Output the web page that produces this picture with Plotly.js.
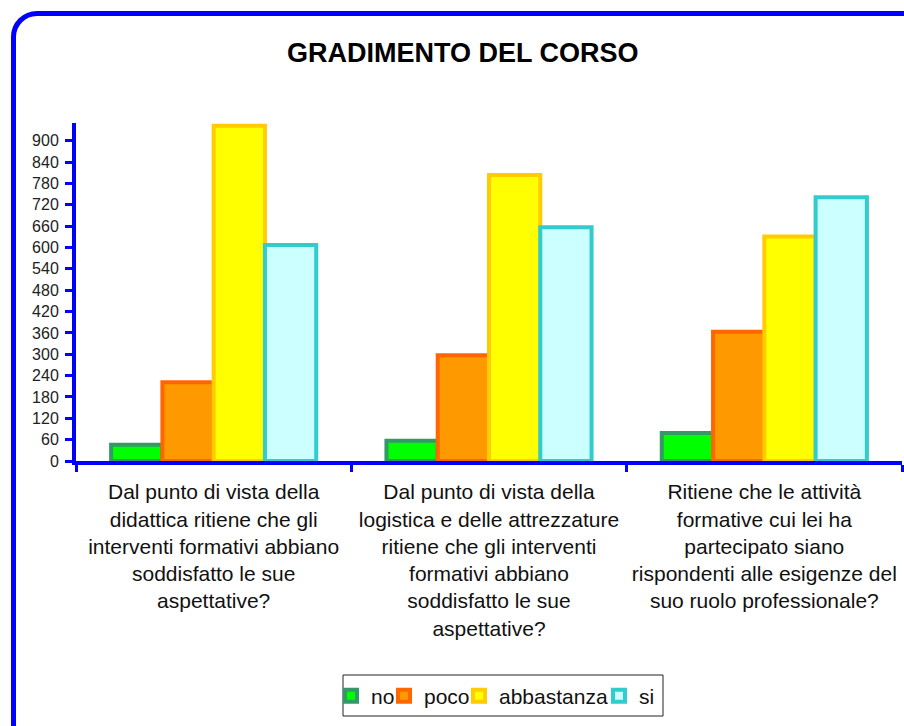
<!DOCTYPE html>
<html>
<head>
<meta charset="utf-8">
<script src="https://cdn.plot.ly/plotly-3.0.1.min.js"></script>
<style>
html, body { margin: 0; padding: 0; background: #fff; overflow: hidden; }
#wrap { position: relative; width: 904px; height: 726px; overflow: hidden; }
#chart { position: absolute; left: 0; top: 0; width: 904px; height: 726px; }
#frame { position: absolute; left: 11px; top: 11px; width: 920px; height: 760px;
  border: 5px solid #0000FF; border-radius: 26px; pointer-events: none; box-sizing: border-box; }
</style>
</head>
<body>
<div id="wrap">
  <div id="chart"></div>
  <div id="frame"></div>
</div>
<script>
// ---- data ----
const categories = [
  "Dal punto di vista della<br>didattica ritiene che gli<br>interventi formativi abbiano<br>soddisfatto le sue<br>aspettative?",
  "Dal punto di vista della<br>logistica e delle attrezzature<br>ritiene che gli interventi<br>formativi abbiano<br>soddisfatto le sue<br>aspettative?",
  "Ritiene che le attività<br>formative cui lei ha<br>partecipato siano<br>rispondenti alle esigenze del<br>suo ruolo professionale?"
];
const seriesNames = ["no", "poco", "abbastanza", "si"];
const valuesNo = [46, 57, 79];
const valuesPoco = [221, 297, 363];
const valuesAbbastanza = [942, 804, 631];
const valuesSi = [607, 657, 741];
const yTickValues = [0, 60, 120, 180, 240, 300, 360, 420, 480, 540, 600, 660, 720, 780, 840, 900];
const titleText = "GRADIMENTO DEL CORSO";

// ---- styles ----
const fills = ["#00FF00", "#FF9900", "#FFFF00", "#CCFFFF"];
const borders = ["#339966", "#FF6600", "#FFCC00", "#33CCCC"];
const allValues = [valuesNo, valuesPoco, valuesAbbastanza, valuesSi];
const legendIds = ["legend", "legend2", "legend3", "legend4"];
// left edge (px) of each legend entry
const legendLeftPx = [331, 384, 459, 599];

const font = "Liberation Sans, Arial, Helvetica, sans-serif";
const W = 904, H = 726;
const M = { l: 76, r: 2, t: 123, b: 265 };
const plotW = W - M.l - M.r, plotH = H - M.t - M.b;

const traces = seriesNames.map((name, i) => ({
  type: "bar",
  name: name,
  x: categories,
  y: allValues[i],
  legend: legendIds[i],
  marker: { color: fills[i], line: { color: borders[i], width: 4 } },
  hoverinfo: "skip"
}));

function legendCfg(i) {
  return {
    orientation: "h",
    xref: "container", yref: "container",
    x: legendLeftPx[i] / W, xanchor: "left",
    y: 1 - 696 / H, yanchor: "middle",
    borderwidth: 0,
    bgcolor: "rgba(0,0,0,0)",
    font: { family: font, size: 21, color: "#111111" },
    itemwidth: 30
  };
}

// legend frame (pixel box converted to paper coords)
const box = { x0: 343, x1: 663, y0: 675, y1: 716 };

const layout = {
  width: W,
  height: H,
  paper_bgcolor: "#ffffff",
  plot_bgcolor: "#ffffff",
  margin: { l: M.l, r: M.r, t: M.t, b: M.b, pad: 0 },
  barmode: "group",
  bargap: 0.255,
  bargroupgap: 0,
  showlegend: true,
  title: {
    text: "<b>" + titleText + "</b>",
    font: { family: font, size: 27, color: "#000000" },
    x: 0.512, xref: "container", xanchor: "center",
    y: 0.928, yref: "container", yanchor: "middle"
  },
  xaxis: {
    type: "category",
    showline: true, linecolor: "#0000FF", linewidth: 4,
    ticks: "outside", tickson: "boundaries", ticklen: 7, tickwidth: 3, tickcolor: "#0000FF",
    tickfont: { family: font, size: 21, color: "#111111" },
    tickangle: 0,
    showgrid: false, zeroline: false,
    ticklabelstandoff: 9
  },
  yaxis: {
    range: [0, 950],
    tickvals: yTickValues,
    ticktext: yTickValues.map(String),
    showline: true, linecolor: "#0000FF", linewidth: 4,
    ticks: "outside", ticklen: 7, tickwidth: 3, tickcolor: "#0000FF",
    tickfont: { family: font, size: 16, color: "#222222" },
    showgrid: false, zeroline: false,
    ticklabelstandoff: 3
  },
  legend: legendCfg(0),
  legend2: legendCfg(1),
  legend3: legendCfg(2),
  legend4: legendCfg(3),
  shapes: [{
    type: "rect", xref: "paper", yref: "paper", layer: "below",
    x0: (box.x0 - M.l) / plotW, x1: (box.x1 - M.l) / plotW,
    y0: (H - M.b - box.y1) / plotH, y1: (H - M.b - box.y0) / plotH,
    line: { color: "#222222", width: 1 }, fillcolor: "rgba(0,0,0,0)"
  }]
};

Plotly.newPlot("chart", traces, layout, { displayModeBar: false, staticPlot: true });
</script>
</body>
</html>
